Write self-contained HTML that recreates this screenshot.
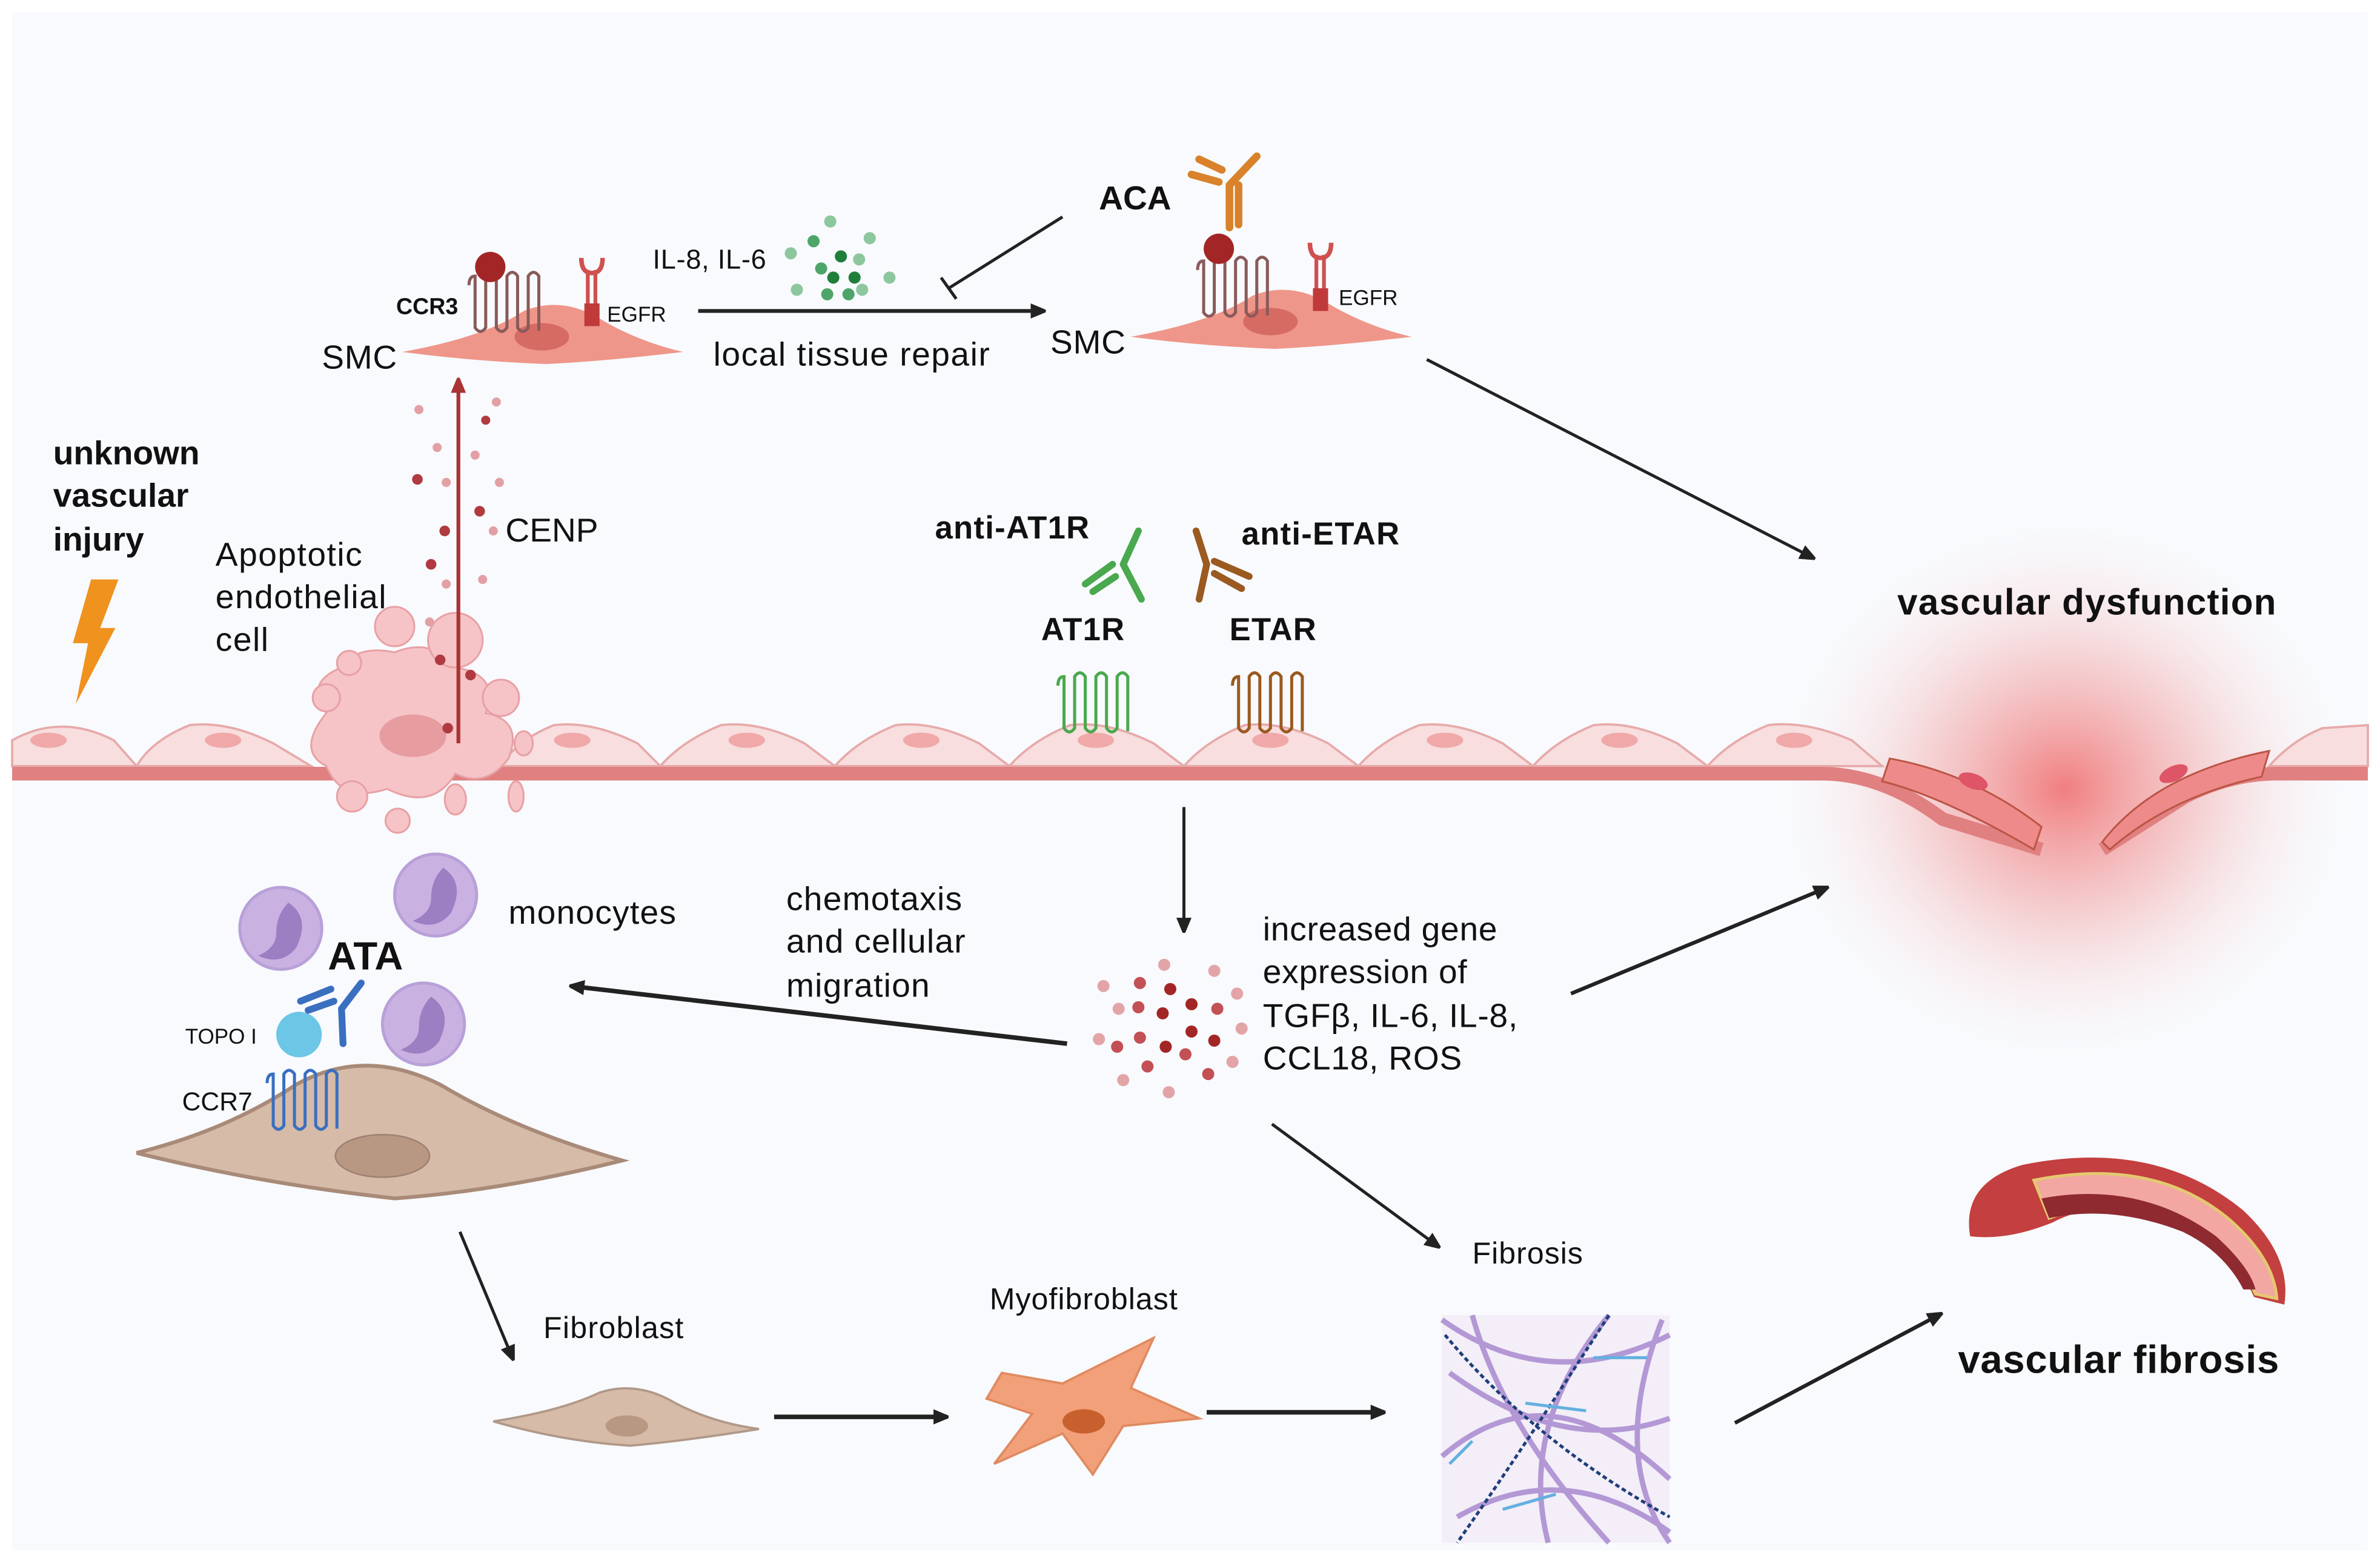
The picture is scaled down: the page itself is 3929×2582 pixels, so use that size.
<!DOCTYPE html>
<html><head><meta charset="utf-8"><style>
html,body{margin:0;padding:0;background:#fff;}
svg{display:block;}
text{font-family:"Liberation Sans",sans-serif;fill:#111;}
.b{font-weight:bold;}
</style></head><body>
<svg width="3929" height="2582" viewBox="0 0 1568 1031" preserveAspectRatio="none" xmlns="http://www.w3.org/2000/svg">
<defs>
<marker id="ah" markerWidth="10" markerHeight="10" refX="9" refY="5" orient="auto" markerUnits="userSpaceOnUse"><path d="M0,0 L12,5 L0,10 z" fill="#222"/></marker>
<marker id="ahr" markerWidth="10" markerHeight="10" refX="9" refY="5" orient="auto" markerUnits="userSpaceOnUse"><path d="M0,0 L12,5 L0,10 z" fill="#a33"/></marker>
<radialGradient id="glow" cx="0.5" cy="0.5" r="0.5"><stop offset="0" stop-color="#e55" stop-opacity="0.75"/><stop offset="0.5" stop-color="#f08a8a" stop-opacity="0.35"/><stop offset="1" stop-color="#fbdcdc" stop-opacity="0"/></radialGradient>
<g id="gpcr" fill="none" stroke-width="2"><path d="M0,0 q0,-6 4,-6 v34 q3.5,5 7,0 v-34 q3.5,-5 7,0 v34 q3.5,5 7,0 v-34 q3.5,-5 7,0 v34 q3.5,5 7,0 v-34 q3.5,-5 7,0 v36"/></g>
</defs>
<rect x="0" y="0" width="1568" height="1031" fill="#fff"/>
<rect x="8" y="8" width="1552" height="1014" fill="#f8fafd"/>
<ellipse cx="1360" cy="520" rx="185" ry="175" fill="url(#glow)"/>
<g fill="#f8dede" stroke="#e7aaaa" stroke-width="1.5">
<path d="M8,505 L8,488 Q40,470 75,488 L90,505 Z"/>
<path d="M90,505 Q100,488 125,478 Q150,475 180,490 L205,505Z"/>
<path d="M330,505 Q340,488 365,478 Q390,475 420,490 L435,505Z"/>
<path d="M435,505 Q450,488 475,478 Q500,475 530,490 L550,505Z"/>
<path d="M550,505 Q565,488 590,478 Q615,475 645,490 L665,505Z"/>
<path d="M665,505 Q680,488 705,478 Q730,475 760,490 L780,505Z"/>
<path d="M780,505 Q795,488 820,478 Q845,475 875,490 L895,505Z"/>
<path d="M895,505 Q910,488 935,478 Q960,475 990,490 L1010,505Z"/>
<path d="M1010,505 Q1025,488 1050,478 Q1075,475 1105,490 L1125,505Z"/>
<path d="M1125,505 Q1140,488 1165,478 Q1190,475 1220,488 L1240,505Z"/>
<path d="M1495,505 Q1510,488 1530,480 L1560,478 L1560,505Z"/>
</g>
<g fill="#f0a8a8"><ellipse cx="32" cy="488" rx="12" ry="5"/><ellipse cx="147" cy="488" rx="12" ry="5"/><ellipse cx="377" cy="488" rx="12" ry="5"/><ellipse cx="492" cy="488" rx="12" ry="5"/><ellipse cx="607" cy="488" rx="12" ry="5"/><ellipse cx="722" cy="488" rx="12" ry="5"/><ellipse cx="837" cy="488" rx="12" ry="5"/><ellipse cx="952" cy="488" rx="12" ry="5"/><ellipse cx="1067" cy="488" rx="12" ry="5"/><ellipse cx="1182" cy="488" rx="12" ry="5"/></g>
<path d="M8,510 L1200,510 Q1240,510 1280,540 L1345,560 M1385,560 L1440,525 Q1470,510 1500,510 L1560,510" fill="none" stroke="#e08080" stroke-width="9"/>
<path d="M1245,500 Q1300,510 1345,545 L1340,560 Q1280,525 1240,515 Z" fill="#ee8a8a" stroke="#b54" stroke-width="1.2"/>
<path d="M1385,555 Q1420,510 1495,495 L1490,512 Q1430,525 1390,560 Z" fill="#ee8a8a" stroke="#b54" stroke-width="1.2"/>
<ellipse cx="1300" cy="515" rx="10" ry="5" fill="#d56" transform="rotate(20 1300 515)"/>
<ellipse cx="1432" cy="510" rx="10" ry="5" fill="#d56" transform="rotate(-25 1432 510)"/>
<g fill="#f6c4c6" stroke="#e8a0a4" stroke-width="1.2">
<path d="M215,470 Q200,450 225,440 Q235,425 260,430 Q285,420 300,440 Q330,445 320,470 Q345,475 335,500 Q320,520 300,510 Q285,535 255,520 Q225,530 215,505 Q195,495 215,470Z"/>
<circle cx="300" cy="422" r="18"/><circle cx="260" cy="413" r="13"/><circle cx="230" cy="437" r="8"/>
<circle cx="215" cy="460" r="9"/><circle cx="330" cy="460" r="12"/><circle cx="232" cy="525" r="10"/>
<circle cx="262" cy="541" r="8"/><ellipse cx="300" cy="527" rx="7" ry="10"/><ellipse cx="340" cy="525" rx="5" ry="10"/>
<ellipse cx="345" cy="490" rx="6" ry="8"/></g>
<ellipse cx="272" cy="485" rx="22" ry="14" fill="#e79ca0"/>
<g fill="#b03a40"><circle cx="320" cy="277" r="3"/><circle cx="275" cy="316" r="3.5"/><circle cx="316" cy="337" r="3.5"/><circle cx="293" cy="350" r="3.5"/><circle cx="284" cy="372" r="3.5"/><circle cx="290" cy="435" r="3.5"/><circle cx="310" cy="445" r="3.5"/><circle cx="295" cy="480" r="3.5"/></g>
<g fill="#e3a0a4"><circle cx="276" cy="270" r="3"/><circle cx="327" cy="265" r="3"/><circle cx="288" cy="295" r="3"/><circle cx="313" cy="300" r="3"/><circle cx="329" cy="318" r="3"/><circle cx="294" cy="318" r="3"/><circle cx="325" cy="350" r="3"/><circle cx="318" cy="382" r="3"/><circle cx="294" cy="385" r="3"/><circle cx="283" cy="410" r="3"/></g>
<line x1="302" y1="490" x2="302" y2="250" stroke="#a33" stroke-width="2.5" marker-end="url(#ahr)"/>
<path d="M60,382 L78,382 L66,414 L76,414 L50,464 L58,424 L48,424 Z" fill="#f0921e"/>
<!-- left SMC -->
<path d="M265,232 Q320,222 345,205 Q370,195 395,210 Q420,225 450,232 Q400,238 360,240 Q310,238 265,232Z" fill="#ef968a"/>
<ellipse cx="357" cy="222" rx="18" ry="9" fill="#d66b63"/>
<use href="#gpcr" x="309" y="188" stroke="#8a5a5a"/>
<circle cx="323" cy="176" r="10" fill="#a32626"/>
<rect x="386" y="178" width="2.5" height="35" fill="#d05050"/><rect x="391" y="178" width="2.5" height="35" fill="#d05050"/><rect x="385" y="200" width="10" height="15" fill="#c03a3a"/>
<path d="M383,170 q0,10 7,10 q7,0 7,-10" fill="none" stroke="#d05050" stroke-width="3"/>
<text x="261" y="207" font-size="15" class="b">CCR3</text>
<text x="400" y="212" font-size="14">EGFR</text>
<text x="212" y="243" font-size="22" letter-spacing="0.3">SMC</text>
<!-- right SMC -->
<path d="M745,222 Q800,212 825,195 Q850,185 875,200 Q900,215 930,222 Q880,228 840,230 Q790,228 745,222Z" fill="#ef968a"/>
<ellipse cx="837" cy="212" rx="18" ry="9" fill="#d66b63"/>
<use href="#gpcr" x="789" y="178" stroke="#8a5a5a"/>
<circle cx="803" cy="164" r="10" fill="#a32626"/>
<rect x="866" y="168" width="2.5" height="35" fill="#d05050"/><rect x="871" y="168" width="2.5" height="35" fill="#d05050"/><rect x="865" y="190" width="10" height="15" fill="#c03a3a"/>
<path d="M863,160 q0,10 7,10 q7,0 7,-10" fill="none" stroke="#d05050" stroke-width="3"/>
<text x="882" y="201" font-size="14">EGFR</text>
<text x="692" y="233" font-size="22" letter-spacing="0.3">SMC</text>
<g fill="#8cc79e"><circle cx="547" cy="146" r="4"/><circle cx="573" cy="157" r="4"/><circle cx="521" cy="167" r="4"/><circle cx="566" cy="171" r="4"/><circle cx="586" cy="183" r="4"/><circle cx="525" cy="191" r="4"/><circle cx="568" cy="191" r="4"/></g>
<g fill="#4ea569"><circle cx="536" cy="159" r="4"/><circle cx="541" cy="177" r="4"/><circle cx="545" cy="194" r="4"/><circle cx="559" cy="194" r="4"/></g>
<g fill="#1f7f3a"><circle cx="554" cy="169" r="4"/><circle cx="549" cy="183" r="4"/><circle cx="563" cy="183" r="4"/></g>
<text x="430" y="177" font-size="18" letter-spacing="0.3">IL-8, IL-6</text>
<line x1="460" y1="205" x2="688" y2="205" stroke="#222" stroke-width="2.5" marker-end="url(#ah)"/>
<text x="470" y="241" font-size="22" letter-spacing="0.6">local tissue repair</text>
<text x="724" y="138" font-size="22" class="b">ACA</text>
<g stroke="#d9822b" stroke-width="5" stroke-linecap="round"><line x1="810" y1="150" x2="810" y2="122"/><line x1="810" y1="122" x2="828" y2="103"/><line x1="803" y1="120" x2="785" y2="115"/><line x1="805" y1="112" x2="790" y2="105"/><line x1="816" y1="148" x2="816" y2="122"/></g>
<line x1="700" y1="143" x2="625" y2="190" stroke="#222" stroke-width="2"/>
<line x1="620" y1="183" x2="630" y2="197" stroke="#222" stroke-width="2"/>
<line x1="940" y1="237" x2="1195" y2="368" stroke="#222" stroke-width="2" marker-end="url(#ah)"/>
<text x="1250" y="405" font-size="24" class="b" letter-spacing="0.5">vascular dysfunction</text>
<text x="616" y="355" font-size="21" class="b" letter-spacing="0.5">anti-AT1R</text>
<text x="818" y="359" font-size="21" class="b" letter-spacing="0.5">anti-ETAR</text>
<text x="686" y="422" font-size="21" class="b" letter-spacing="0.5">AT1R</text>
<text x="810" y="422" font-size="21" class="b" letter-spacing="0.5">ETAR</text>
<g stroke="#4aa84e" stroke-width="4.5" stroke-linecap="round"><line x1="750" y1="350" x2="740" y2="372"/><line x1="740" y1="372" x2="752" y2="395"/><line x1="733" y1="372" x2="715" y2="385"/><line x1="735" y1="380" x2="720" y2="390"/></g>
<g stroke="#9a5a20" stroke-width="4.5" stroke-linecap="round"><line x1="788" y1="350" x2="795" y2="372"/><line x1="795" y1="372" x2="790" y2="395"/><line x1="800" y1="370" x2="823" y2="380"/><line x1="800" y1="378" x2="818" y2="388"/></g>
<use href="#gpcr" x="697" y="452" stroke="#4aa84e"/>
<use href="#gpcr" x="812" y="452" stroke="#9a5a20"/>
<line x1="780" y1="532" x2="780" y2="614" stroke="#222" stroke-width="2" marker-end="url(#ah)"/>
<g fill="#e3a4a8"><circle cx="767" cy="636" r="4"/><circle cx="800" cy="640" r="4"/><circle cx="727" cy="650" r="4"/><circle cx="737" cy="665" r="4"/><circle cx="815" cy="655" r="4"/><circle cx="724" cy="685" r="4"/><circle cx="818" cy="678" r="4"/><circle cx="740" cy="712" r="4"/><circle cx="770" cy="720" r="4"/><circle cx="812" cy="700" r="4"/></g>
<g fill="#c35055"><circle cx="751" cy="648" r="4"/><circle cx="750" cy="664" r="4"/><circle cx="802" cy="665" r="4"/><circle cx="736" cy="690" r="4"/><circle cx="751" cy="684" r="4"/><circle cx="781" cy="695" r="4"/><circle cx="756" cy="703" r="4"/><circle cx="796" cy="708" r="4"/></g>
<g fill="#a32626"><circle cx="771" cy="652" r="4"/><circle cx="785" cy="662" r="4"/><circle cx="766" cy="668" r="4"/><circle cx="785" cy="680" r="4"/><circle cx="768" cy="690" r="4"/><circle cx="800" cy="686" r="4"/></g>
<text font-size="22" letter-spacing="0.3"><tspan x="832" y="620">increased gene</tspan><tspan x="832" y="648">expression of</tspan><tspan x="832" y="677">TGFβ, IL-6, IL-8,</tspan><tspan x="832" y="705">CCL18, ROS</tspan></text>
<line x1="1035" y1="655" x2="1204" y2="585" stroke="#222" stroke-width="2.5" marker-end="url(#ah)"/>
<line x1="703" y1="688" x2="376" y2="650" stroke="#222" stroke-width="3" marker-end="url(#ah)"/>
<text font-size="22" letter-spacing="0.5"><tspan x="518" y="600">chemotaxis</tspan><tspan x="518" y="628">and cellular</tspan><tspan x="518" y="657">migration</tspan></text>
<g fill="#c9b2e2" stroke="#b9a0d8" stroke-width="2"><circle cx="185" cy="612" r="27"/><circle cx="287" cy="590" r="27"/><circle cx="279" cy="675" r="27"/></g>
<g fill="#9c7fc2"><path d="M190,595 q15,10 5,30 q-10,12 -25,5 q12,-5 12,-15 q0,-12 8,-20z"/><path d="M292,572 q15,10 5,30 q-10,12 -25,5 q12,-5 12,-15 q0,-12 8,-20z"/><path d="M284,657 q15,10 5,30 q-10,12 -25,5 q12,-5 12,-15 q0,-12 8,-20z"/></g>
<text x="335" y="609" font-size="22" letter-spacing="0.5">monocytes</text>
<text x="216" y="639" font-size="26" class="b">ATA</text>
<text x="122" y="688" font-size="14">TOPO I</text>
<circle cx="197" cy="682" r="15" fill="#6cc6e6"/>
<g stroke="#3a6fc0" stroke-width="4.5" stroke-linecap="round"><line x1="238" y1="648" x2="225" y2="665"/><line x1="225" y1="665" x2="226" y2="688"/><line x1="218" y1="652" x2="198" y2="660"/><line x1="220" y1="660" x2="203" y2="666"/></g>
<text x="120" y="732" font-size="17">CCR7</text>
<path d="M90,760 Q150,745 195,715 Q240,690 290,715 Q340,745 410,765 Q330,785 260,790 Q170,780 90,760Z" fill="#d6bba8" stroke="#a98a78" stroke-width="2.5"/>
<ellipse cx="252" cy="762" rx="31" ry="14" fill="#b89882" stroke="#a08070"/>
<use href="#gpcr" x="176" y="714" stroke="#3a6fc0"/>
<line x1="303" y1="812" x2="338" y2="896" stroke="#222" stroke-width="2" marker-end="url(#ah)"/>
<text x="358" y="882" font-size="20" letter-spacing="0.5">Fibroblast</text>
<path d="M325,937 Q370,930 395,918 Q420,910 445,925 Q470,938 500,942 Q450,950 415,953 Q370,950 325,937Z" fill="#d6bba8" stroke="#b09888" stroke-width="1.5"/>
<ellipse cx="413" cy="940" rx="14" ry="7" fill="#b89882"/>
<line x1="510" y1="934" x2="624" y2="934" stroke="#222" stroke-width="3" marker-end="url(#ah)"/>
<text x="652" y="863" font-size="20" letter-spacing="0.4">Myofibroblast</text>
<path d="M660,905 L700,912 L760,882 L745,915 L790,935 L740,940 L720,972 L700,945 L655,965 L680,932 L650,922Z" fill="#f2a07a" stroke="#e08a60" stroke-width="1.5"/>
<ellipse cx="714" cy="937" rx="14" ry="8" fill="#c8602e"/>
<line x1="795" y1="931" x2="912" y2="931" stroke="#222" stroke-width="3" marker-end="url(#ah)"/>
<line x1="838" y1="741" x2="948" y2="822" stroke="#222" stroke-width="2" marker-end="url(#ah)"/>
<text x="970" y="833" font-size="20" letter-spacing="0.4">Fibrosis</text>
<rect x="950" y="867" width="150" height="150" fill="#f3eef7"/>
<g fill="none" stroke="#a88ad0" stroke-width="3.5" opacity="0.85"><path d="M950,870 Q1020,920 1100,880"/><path d="M955,905 Q1030,960 1100,935"/><path d="M950,960 Q1020,900 1100,975"/><path d="M960,1000 Q1030,960 1100,1010"/><path d="M970,867 Q990,940 1060,1017"/><path d="M1060,867 Q1000,940 1020,1017"/><path d="M1095,870 Q1060,960 1100,1017"/></g>
<g fill="none" stroke="#1f3f7a" stroke-width="2" stroke-dasharray="3,2"><path d="M1060,867 Q1000,960 960,1017"/><path d="M952,880 Q1010,950 1100,1000"/></g>
<g stroke="#63b0e0" stroke-width="2"><line x1="1050" y1="895" x2="1085" y2="895"/><line x1="1005" y1="925" x2="1045" y2="930"/><line x1="990" y1="995" x2="1025" y2="985"/><line x1="955" y1="965" x2="970" y2="950"/></g>
<line x1="1143" y1="938" x2="1279" y2="866" stroke="#222" stroke-width="2.5" marker-end="url(#ah)"/>
<!-- vessel -->
<path d="M1298,815 Q1292,780 1332,768 Q1420,750 1478,798 Q1510,828 1505,860 L1485,855 Q1470,822 1440,806 Q1390,786 1352,806 Q1322,818 1298,815Z" fill="#c43f3f"/>
<path d="M1340,778 Q1420,762 1470,805 Q1498,830 1500,856 L1486,853 Q1472,822 1442,806 Q1392,786 1350,803Z" fill="#f2a7a3" stroke="#e4c870" stroke-width="2"/>
<path d="M1345,790 Q1410,778 1460,815 Q1482,835 1486,850 L1478,850 Q1465,825 1438,812 Q1392,794 1350,803Z" fill="#8e2a30"/>
<text x="1290" y="905" font-size="26" class="b" letter-spacing="0.3">vascular fibrosis</text>
<text font-size="22" class="b"><tspan x="35" y="306">unknown</tspan><tspan x="35" y="334">vascular</tspan><tspan x="35" y="363">injury</tspan></text>
<text font-size="22" letter-spacing="0.6"><tspan x="142" y="373">Apoptotic</tspan><tspan x="142" y="401">endothelial</tspan><tspan x="142" y="429">cell</tspan></text>
<text x="333" y="357" font-size="22">CENP</text>
</svg>
</body></html>
